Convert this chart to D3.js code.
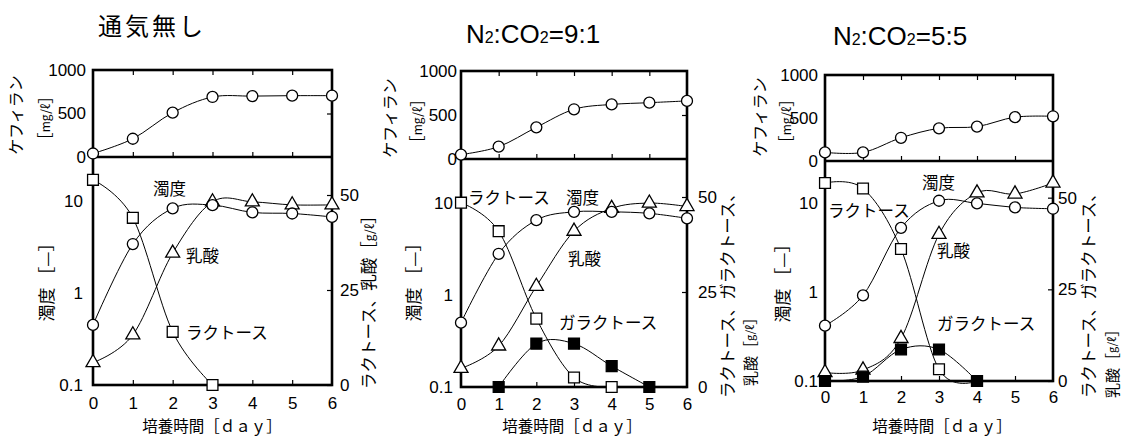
<!DOCTYPE html>
<html>
<head>
<meta charset="utf-8">
<script src="https://cdn.jsdelivr.net/npm/d3@7"></script>
<style>
  html, body { margin: 0; padding: 0; background: #fff; overflow: hidden; }
  svg { display: block; }
  .num { font-family: "Liberation Sans", Arial, sans-serif; }
  .jp { font-family: "Noto Sans CJK JP", sans-serif; }
</style>
</head>
<body>
<svg id="chart" width="1122" height="437"></svg>
<script>
// Culture time axis
const days = [0, 1, 2, 3, 4, 5, 6];

// Panel titles
const titles = ["通気無し", "N2:CO2=9:1", "N2:CO2=5:5"];

// Kefiran [mg/L] (upper plots)
const kefiranNone = [40, 210, 510, 690, 700, 705, 705];
const kefiran91   = [50, 140, 360, 565, 620, 640, 660];
const kefiran55   = [100, 100, 270, 380, 400, 510, 520];

// Turbidity [-] (lower plots, log axis)
const turbidityNone = [0.45, 3.4, 8.3, 9.0, 7.5, 7.3, 6.7];
const turbidity91   = [0.5, 2.8, 6.5, 8.0, 8.0, 7.7, 6.8];
const turbidity55   = [0.42, 0.92, 5.3, 10.7, 10.0, 9.0, 8.7];

// Lactose [g/L] (lower plots, right axis); series end when exhausted
const lactoseNone = [54, 44, 14, 0];
const lactose91   = [48.5, 41, 18, 2.5, 0];
const lactose55   = [54, 52.5, 36, 3.2, 0];

// Lactic acid [g/L]
const lacticNone = [5.9, 13.2, 34.7, 48.2, 48.2, 47.4, 47.4];
const lactic91   = [4.9, 10.8, 26.5, 41, 47, 48.4, 47.5];
const lactic55   = [2.3, 3.0, 11.6, 40, 51.3, 51, 54];

// Galactose [g/L] (null = not measured)
const galactose91 = [null, 0, 11.4, 11.4, 5.5, 0, null];
const galactose55 = [0, 1.2, 8.6, 8.6, 0, null, null];

// Axis ticks
const kefiranTicks = [0, 500, 1000];
const turbidityTicks = [0.1, 1, 10];
const rightTicks = [0, 25, 50];

const xTitle = "培養時間［ｄａｙ］";

// Panel frames and annotation placement
const panels = [
  {
    title: titles[0], titleX: 152, titleY: 35,
    frame: {left: 93, right: 332, top: 70, mid: 157, bottom: 385},
    kefiran: kefiranNone, turbidity: turbidityNone, lactose: lactoseNone,
    lactic: lacticNone, galactose: null,
    padL: 7, padLL: 10, padR: 8, padB: 12,
    labels: [["濁度", 153, 188], ["乳酸", 186, 255], ["ラクトース", 186, 332]],
    kefLabel: [15, 115], unitLabel: [44, 118], turbLabel: [45, 278],
    right1: ["ラクトース、乳酸", 368, 389, true], right2: null,
    xTitleX: 212, xTitleY: 425
  },
  {
    title: titles[1], titleX: 533, titleY: 43,
    frame: {left: 461, right: 687, top: 71, mid: 159, bottom: 387},
    kefiran: kefiran91, turbidity: turbidity91, lactose: lactose91,
    lactic: lactic91, galactose: galactose91,
    padL: 4, padLL: 8, padR: 11, padB: 11,
    labels: [["ラクトース", 468, 197], ["濁度", 566, 197], ["乳酸", 568, 258], ["ガラクトース", 559, 322]],
    kefLabel: [389, 118], unitLabel: [416, 121], turbLabel: [412, 278],
    right1: ["ラクトース、ガラクトース、", 727, 398, false], right2: [749, 386],
    xTitleX: 572, xTitleY: 425
  },
  {
    title: titles[2], titleX: 900, titleY: 45,
    frame: {left: 825, right: 1053, top: 75, mid: 161, bottom: 381},
    kefiran: kefiran55, turbidity: turbidity55, lactose: lactose55,
    lactic: lactic55, galactose: galactose55,
    padL: 7, padLL: 7, padR: 5, padB: 10,
    labels: [["濁度", 922, 182], ["ラクトース", 828, 210], ["乳酸", 937, 250], ["ガラクトース", 937, 323]],
    kefLabel: [759, 117], unitLabel: [785, 121], turbLabel: [781, 279],
    right1: ["ラクトース、ガラクトース、", 1088, 398, false], right2: [1111, 398],
    xTitleX: 942, xTitleY: 425
  }
];

const svg = d3.select("#chart");

// Uniform Catmull-Rom spline through the measured points
const curve = d3.curveCatmullRom.alpha(0);
const symCircle = d3.symbol().type(d3.symbolCircle).size(95);
const symSquare = d3.symbol().type(d3.symbolSquare).size(118);
const symTriangle = d3.symbol().type(d3.symbolTriangle).size(85);

function toPoints(values) {
  return values.map((v, i) => ({d: days[i], v})).filter(p => p.v != null);
}

function drawSeries(g, x, y, values, sym, filled) {
  const pts = toPoints(values);
  const line = d3.line().x(p => x(p.d)).y(p => y(p.v)).curve(curve);
  g.append("path")
    .attr("d", line(pts))
    .attr("fill", "none")
    .attr("stroke", "#000")
    .attr("stroke-width", 1);
  g.selectAll(null).data(pts).enter().append("path")
    .attr("d", sym)
    .attr("transform", p => `translate(${x(p.d)},${y(p.v)})`)
    .attr("fill", filled ? "#000" : "#fff")
    .attr("stroke", "#000")
    .attr("stroke-width", 1.3);
}

function styleAxis(sel, size) {
  sel.select(".domain").remove();
  sel.selectAll(".tick line").attr("stroke", "#000").attr("stroke-width", 1.2);
  sel.selectAll(".tick text")
    .attr("class", "num")
    .attr("font-size", size)
    .attr("fill", "#000");
}

function vText(g, str, x, y, anchor, size) {
  return g.append("text")
    .attr("class", "jp")
    .attr("transform", `translate(${x},${y}) rotate(-90)`)
    .attr("text-anchor", anchor)
    .attr("dominant-baseline", "central")
    .attr("font-size", size)
    .attr("fill", "#000")
    .text(str);
}

// Bracketed unit with the unit itself in a smaller size
function unit(textSel, prefix, u, small) {
  textSel.append("tspan").text(prefix + "［");
  textSel.append("tspan").attr("font-size", small).text(u);
  textSel.append("tspan").text("］");
}

panels.forEach(p => {
  const f = p.frame;
  const g = svg.append("g");

  const x = d3.scaleLinear().domain([0, 6]).range([f.left, f.right]);
  const yK = d3.scaleLinear().domain([0, 1000]).range([f.mid, f.top]);
  const yT = d3.scaleLog().domain([0.1, 30]).range([f.bottom, f.mid]);
  const yR = d3.scaleLinear().domain([0, 60]).range([f.bottom, f.mid]);

  // Title (the 2 after N and O drawn small)
  const t = g.append("text")
    .attr("x", p.titleX).attr("y", p.titleY)
    .attr("text-anchor", "middle")
    .attr("fill", "#000");
  if (/^N2/.test(p.title)) {
    t.attr("class", "num").attr("font-size", 26);
    p.title.split("").forEach((ch, i) => {
      const prev = p.title[i - 1];
      const sub = ch === "2" && (prev === "N" || prev === "O");
      t.append("tspan").attr("font-size", sub ? 16 : 26).text(ch);
    });
  } else {
    t.attr("class", "jp").attr("font-size", 24).attr("letter-spacing", 3).text(p.title);
  }

  // Upper plot: ticks on all sides
  g.append("g").attr("transform", `translate(0,${f.top})`)
    .call(d3.axisTop(x).tickValues(days.slice(1, 6)).tickSize(-5).tickFormat(""))
    .call(s => styleAxis(s, 0));
  g.append("g").attr("transform", `translate(0,${f.mid})`)
    .call(d3.axisBottom(x).tickValues(days.slice(1, 6)).tickSize(-5).tickFormat(""))
    .call(s => styleAxis(s, 0));
  g.append("g").attr("transform", `translate(${f.left},0)`)
    .call(d3.axisLeft(yK).tickValues(kefiranTicks).tickSize(0).tickPadding(p.padL).tickFormat(d3.format("d")))
    .call(s => styleAxis(s, 17));
  g.append("g").attr("transform", `translate(${f.right},0)`)
    .call(d3.axisRight(yK).tickValues([500]).tickSize(-5).tickFormat(""))
    .call(s => styleAxis(s, 0));

  // Lower plot axes
  g.append("g").attr("transform", `translate(${f.left},0)`)
    .call(d3.axisLeft(yT).tickValues(turbidityTicks).tickSize(0).tickPadding(p.padLL).tickFormat(d => String(d)))
    .call(s => styleAxis(s, 17));
  g.append("g").attr("transform", `translate(${f.right},0)`)
    .call(d3.axisRight(yR).tickValues(rightTicks).tickSize(-5).tickPadding(p.padR).tickFormat(d3.format("d")))
    .call(s => styleAxis(s, 17));
  g.append("g").attr("transform", `translate(0,${f.bottom})`)
    .call(d3.axisBottom(x).tickValues(days).tickSize(-5).tickPadding(p.padB).tickFormat(d3.format("d")))
    .call(s => styleAxis(s, 17))
    .call(s => s.selectAll(".tick line").filter(d => d === 0 || d === 6).remove());

  // Thick frames
  const frame = g.append("g").attr("stroke", "#000").attr("stroke-width", 2.6).attr("fill", "none");
  frame.append("rect")
    .attr("x", x(0)).attr("y", yK(1000))
    .attr("width", x(6) - x(0)).attr("height", yR(0) - yK(1000));
  frame.append("line")
    .attr("x1", x(0)).attr("x2", x(6))
    .attr("y1", yK(0)).attr("y2", yK(0));

  // Series
  const plot = g.append("g");
  drawSeries(plot, x, yK, p.kefiran, symCircle, false);
  drawSeries(plot, x, yR, p.lactose, symSquare, false);
  drawSeries(plot, x, yR, p.lactic, symTriangle, false);
  if (p.galactose) drawSeries(plot, x, yR, p.galactose, symSquare, true);
  drawSeries(plot, x, yT, p.turbidity, symCircle, false);

  // In-plot series names
  p.labels.forEach(([s, lx, ly]) => {
    g.append("text").attr("class", "jp")
      .attr("x", lx).attr("y", ly)
      .attr("dominant-baseline", "central")
      .attr("font-size", 16.5).attr("fill", "#000")
      .text(s);
  });

  // Left axis titles
  vText(g, "ケフィラン", p.kefLabel[0], p.kefLabel[1], "middle", 16);
  unit(vText(g, "", p.unitLabel[0], p.unitLabel[1], "middle", 16), "", "mg/ℓ", 12);
  vText(g, "濁度 ［—］", p.turbLabel[0], p.turbLabel[1], "middle", 17);

  // Right axis titles
  const r1 = vText(g, "", p.right1[1], p.right1[2], "start", 16.5);
  if (p.right1[3]) unit(r1, p.right1[0], "g/ℓ", 12);
  else r1.text(p.right1[0]);
  if (p.right2) unit(vText(g, "", p.right2[0], p.right2[1], "start", 15), "乳酸", "g/ℓ", 11);

  // X axis title
  g.append("text").attr("class", "jp")
    .attr("x", p.xTitleX).attr("y", p.xTitleY)
    .attr("text-anchor", "middle")
    .attr("dominant-baseline", "central")
    .attr("font-size", 15.5).attr("fill", "#000")
    .text(xTitle);
});
</script>
</body>
</html>
